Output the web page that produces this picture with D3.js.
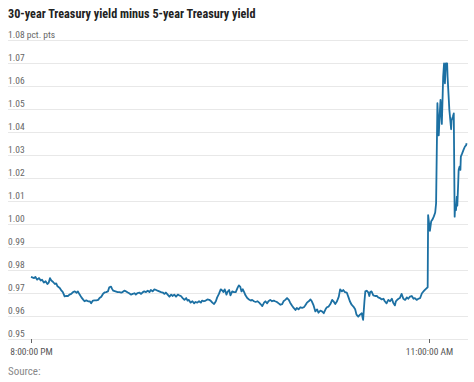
<!DOCTYPE html>
<html>
<head>
<meta charset="utf-8">
<script src="https://cdn.jsdelivr.net/npm/d3@7"></script>
<style>
  body { margin: 0; background: #fff; }
  svg { display: block; font-family: "Liberation Sans Narrow", "Roboto Condensed", Roboto, sans-serif; }
</style>
</head>
<body>
<svg id="chart" width="474" height="382"></svg>
<script>
// minutes after 8:00:00 PM, and the spread in percentage points
const minutes = [
    0,7,10,14,18,22,25,29,33,37,40,43,46,50,54,57,60,65,69,72,
    76,80,84,87,91,95,99,103,106,110,114,118,121,125,129,133,136,140,144,148,
    152,155,159,163,167,170,174,
    177,181,183,186,191,196,200,204,207,211,215,219,222,226,230,234,237,241,245,249,
    253,256,260,264,268,271,275,279,283,286,290,294,298,302,305,309,313,317,320,324,
    328,332,335,339,343,347,351,
    354,357,361,365,369,372,376,380,384,387,391,395,399,403,406,410,414,418,421,425,
    429,433,435,438,442,444,448,451,455,459,463,467,470,473,476,479,482,485,489,493,
    497,500,504,508,512,516,519,523,527,
    530,534,537,541,545,549,552,556,560,564,568,571,575,579,583,586,590,594,598,601,
    605,609,613,617,620,624,628,632,635,639,643,647,650,654,658,662,666,669,673,677,
    681,684,688,692,696,699,703,
    706,710,714,718,721,725,729,733,736,740,744,748,750,751,754,756,759,763,765,767,
    770,774,778,782,785,789,793,797,800,804,808,812,816,819,823,825,828,831,834,838,
    842,846,850,853,857,861,865,868,872,876,880,
    884,889,893,897,898,902,905,908,911,914,916,919,922,924,926,929,931,932,934,936,
    937,938,941,942,944,946,948,950,951,954,956,958,959,961,963,964,966,967,969,971,
    972,975,978,981,984,985
];
const spread = [
    .9770,.9765,.9770,.9758,.9765,.9754,.9758,.9745,.9751,.9739,.9745,.9765,.9754,.9748,.9739,.9742,.9729,.9722,.9710,.9704,
    .9685,.9687,.9687,.9693,.9696,.9704,.9707,.9701,.9707,.9693,.9681,.9671,.9664,.9668,.9664,.9664,.9655,.9667,.9668,.9668,
    .9670,.9678,.9684,.9697,.9703,.9704,.9707,
    .9725,.9728,.9719,.9710,.9707,.9704,.9704,.9702,.9704,.9710,.9707,.9702,.9699,.9693,.9696,.9699,.9693,.9700,.9702,.9696,
    .9704,.9707,.9704,.9710,.9704,.9713,.9707,.9716,.9713,.9710,.9707,.9704,.9702,.9696,.9702,.9693,.9684,.9693,.9687,.9693,
    .9684,.9693,.9690,.9687,.9678,.9670,.9678,
    .9667,.9670,.9658,.9664,.9655,.9661,.9658,.9664,.9658,.9667,.9664,.9667,.9672,.9670,.9667,.9658,.9652,.9664,.9681,.9696,
    .9716,.9710,.9704,.9716,.9693,.9704,.9713,.9690,.9707,.9704,.9704,.9722,.9733,.9728,.9707,.9716,.9704,.9690,.9678,.9672,
    .9667,.9670,.9664,.9661,.9664,.9658,.9652,.9643,.9658,
    .9664,.9655,.9664,.9670,.9664,.9667,.9664,.9661,.9655,.9649,.9652,.9664,.9670,.9678,.9670,.9658,.9646,.9635,.9626,.9635,
    .9629,.9638,.9635,.9638,.9646,.9658,.9664,.9672,.9664,.9646,.9620,.9629,.9614,.9623,.9620,.9612,.9629,.9638,.9641,.9652,
    .9670,.9664,.9652,.9664,.9684,.9716,.9707,
    .9713,.9704,.9702,.9681,.9664,.9649,.9641,.9629,.9606,.9597,.9606,.9612,.9591,.9583,.9664,.9707,.9710,.9702,.9687,.9704,
    .9707,.9690,.9687,.9687,.9681,.9678,.9672,.9675,.9664,.9655,.9670,.9664,.9675,.9658,.9646,.9664,.9670,.9675,.9678,.9696,
    .9675,.9670,.9681,.9675,.9684,.9687,.9675,.9678,.9670,.9675,.9678,
    .9699,.9710,.9718,.9725,1.0039,.9970,1.0012,1.0020,1.0033,1.0050,1.0090,1.0525,1.0385,1.0467,1.0540,1.0435,1.0568,1.0640,1.0698,1.0612,
    1.0655,1.0698,1.0698,1.0640,1.0568,1.0496,1.0455,1.0412,1.0450,1.0467,1.0481,1.0032,1.0075,1.0060,1.0119,1.0080,1.0177,1.0235,1.0249,1.0235,
    1.0293,1.0307,1.0322,1.0336,1.0343,1.0351
];
const yTicks = [0.95,0.96,0.97,0.98,0.99,1.00,1.01,1.02,1.03,1.04,1.05,1.06,1.07,1.08];
const xTickMinutes = [0, 900];   // 8:00:00 PM and 11:00:00 AM
const titleText = "30-year Treasury yield minus 5-year Treasury yield";
const unitText = " pct. pts";
const sourceText = "Source:";

const start = new Date(2024, 0, 1, 20, 0, 0);
const toDate = m => new Date(start.getTime() + m * 60000);
const data = minutes.map((m, i) => ({ date: toDate(m), value: spread[i] }));

const svg = d3.select("#chart");

const x = d3.scaleTime()
    .domain([start, toDate(d3.max(minutes))])
    .range([31, 466.6]);
const y = d3.scaleLinear()
    .domain([0.95, 1.08])
    .range([339, 40]);

svg.append("text")
    .attr("x", 8)
    .attr("y", 18)
    .text(titleText)
    .style("font-size", "12.2px")
    .style("font-weight", "bold")
    .style("fill", "#222");

// gridlines and y labels
const yAxis = svg.append("g")
    .attr("transform", "translate(8,0)")
    .call(d3.axisRight(y)
        .tickValues(yTicks)
        .tickSize(460)
        .tickFormat((d, i) => d3.format(".2f")(d) + (i === yTicks.length - 1 ? unitText : "")));
yAxis.attr("font-family", null).attr("font-size", null);
yAxis.select(".domain").remove();
yAxis.selectAll(".tick line")
    .attr("stroke", "#e8e8e8");
yAxis.selectAll(".tick text")
    .attr("x", 0)
    .attr("y", -3)
    .attr("dy", 0)
    .attr("text-anchor", "start")
    .style("font-size", "9.5px")
    .style("fill", "#666");

// x axis
const xAxis = svg.append("g")
    .attr("transform", "translate(0,339)")
    .call(d3.axisBottom(x)
        .tickValues(xTickMinutes.map(toDate))
        .tickSize(4)
        .tickPadding(5)
        .tickFormat(d3.timeFormat("%-I:%M:%S %p")));
xAxis.attr("font-family", null).attr("font-size", null);
xAxis.select(".domain").remove();
xAxis.selectAll(".tick line").attr("stroke", "#666");
xAxis.selectAll(".tick text")
    .style("font-size", "9.5px")
    .style("fill", "#555");

const line = d3.line()
    .x(d => x(d.date))
    .y(d => y(d.value));

svg.append("path")
    .datum(data)
    .attr("d", line)
    .attr("fill", "none")
    .attr("stroke", "#1c70a3")
    .attr("stroke-width", 1.8)
    .attr("stroke-linejoin", "round");

svg.append("text")
    .attr("x", 8)
    .attr("y", 375)
    .text(sourceText)
    .style("font-size", "11px")
    .style("fill", "#888");
</script>
</body>
</html>
